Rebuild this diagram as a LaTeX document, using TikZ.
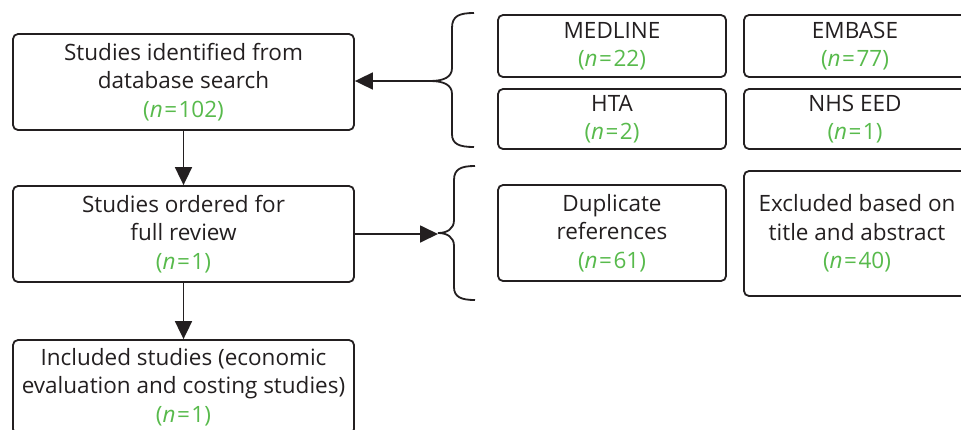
\documentclass[tikz,border=0pt]{standalone}
\usepackage{fontspec}
\setmainfont{Open Sans}
\usetikzlibrary{arrows.meta}
\definecolor{ngreen}{RGB}{88,186,76}
\definecolor{ink}{RGB}{35,31,32}
\newcommand{\nn}[1]{\textcolor{ngreen}{(\textit{n}\hspace{1.5pt}=\hspace{1.5pt}#1)}}
\begin{document}
\begin{tikzpicture}[x=1pt,y=-1pt,
  box/.style={draw=ink, line width=1.8pt, rounded corners=5pt, align=center,
    font=\fontsize{22.5}{28.5}\selectfont, text=ink, inner sep=0pt},
  arr/.style={draw=ink, line width=1.8pt, -{Triangle[length=18pt,width=17pt]}},
  bracestyle/.style={draw=ink, line width=1.8pt}]
\useasboundingbox (0,0) rectangle (961,429);
\clip (0,0) rectangle (961,429);
\node[box, minimum width=341pt, minimum height=96pt] (b1) at (183.5,82) {Studies identified from\\database search\\\nn{102}};
\node[box, minimum width=341pt, minimum height=96pt] (b2) at (183.5,234) {Studies ordered for\\full review\\\nn{1}};
\node[box, minimum width=341pt, minimum height=94pt] (b3) at (183.5,387) {Included studies (economic\\evaluation and costing studies)\\\nn{1}};
\node[box, minimum width=228pt, minimum height=62pt] (med) at (612,46) {MEDLINE\\\nn{22}};
\node[box, minimum width=222pt, minimum height=62pt] (emb) at (855,46) {EMBASE\\\nn{77}};
\node[box, minimum width=228pt, minimum height=60pt] (hta) at (612,119) {HTA\\\nn{2}};
\node[box, minimum width=222pt, minimum height=60pt] (nhs) at (855,119) {NHS EED\\\nn{1}};
\node[box, minimum width=228pt, minimum height=96pt] (dup) at (612,233) {Duplicate\\references\\\nn{61}};
\node[box, minimum width=226pt, minimum height=125pt] (exc) at (857,233.5) {Excluded based on\\title and abstract\\\nn{40}};
\coordinate (t1) at (430,81);
\coordinate (t2) at (438,233);
\draw[bracestyle] (474,13) .. controls (459,13) and (452,16) .. (452,28) -- (452,68) .. controls (452,77) and (444,81) .. (t1) .. controls (444,81) and (452,85) .. (452,94) -- (452,134) .. controls (452,144) and (459,147) .. (474,147);
\draw[bracestyle] (475,166) .. controls (461,166) and (454,169) .. (454,180) -- (454,220) .. controls (454,229) and (447,233) .. (t2) .. controls (447,233) and (454,237) .. (454,246) -- (454,287) .. controls (454,297) and (461,300) .. (475,300);
\draw[arr] (t1) -- (t1 -| b1.east);
\draw[arr] (b2.east) -- (b2.east -| t2);
\draw[arr] (b1.south) -- (b2.north);
\draw[arr] (b2.south) -- (b3.north);
\end{tikzpicture}
\end{document}
